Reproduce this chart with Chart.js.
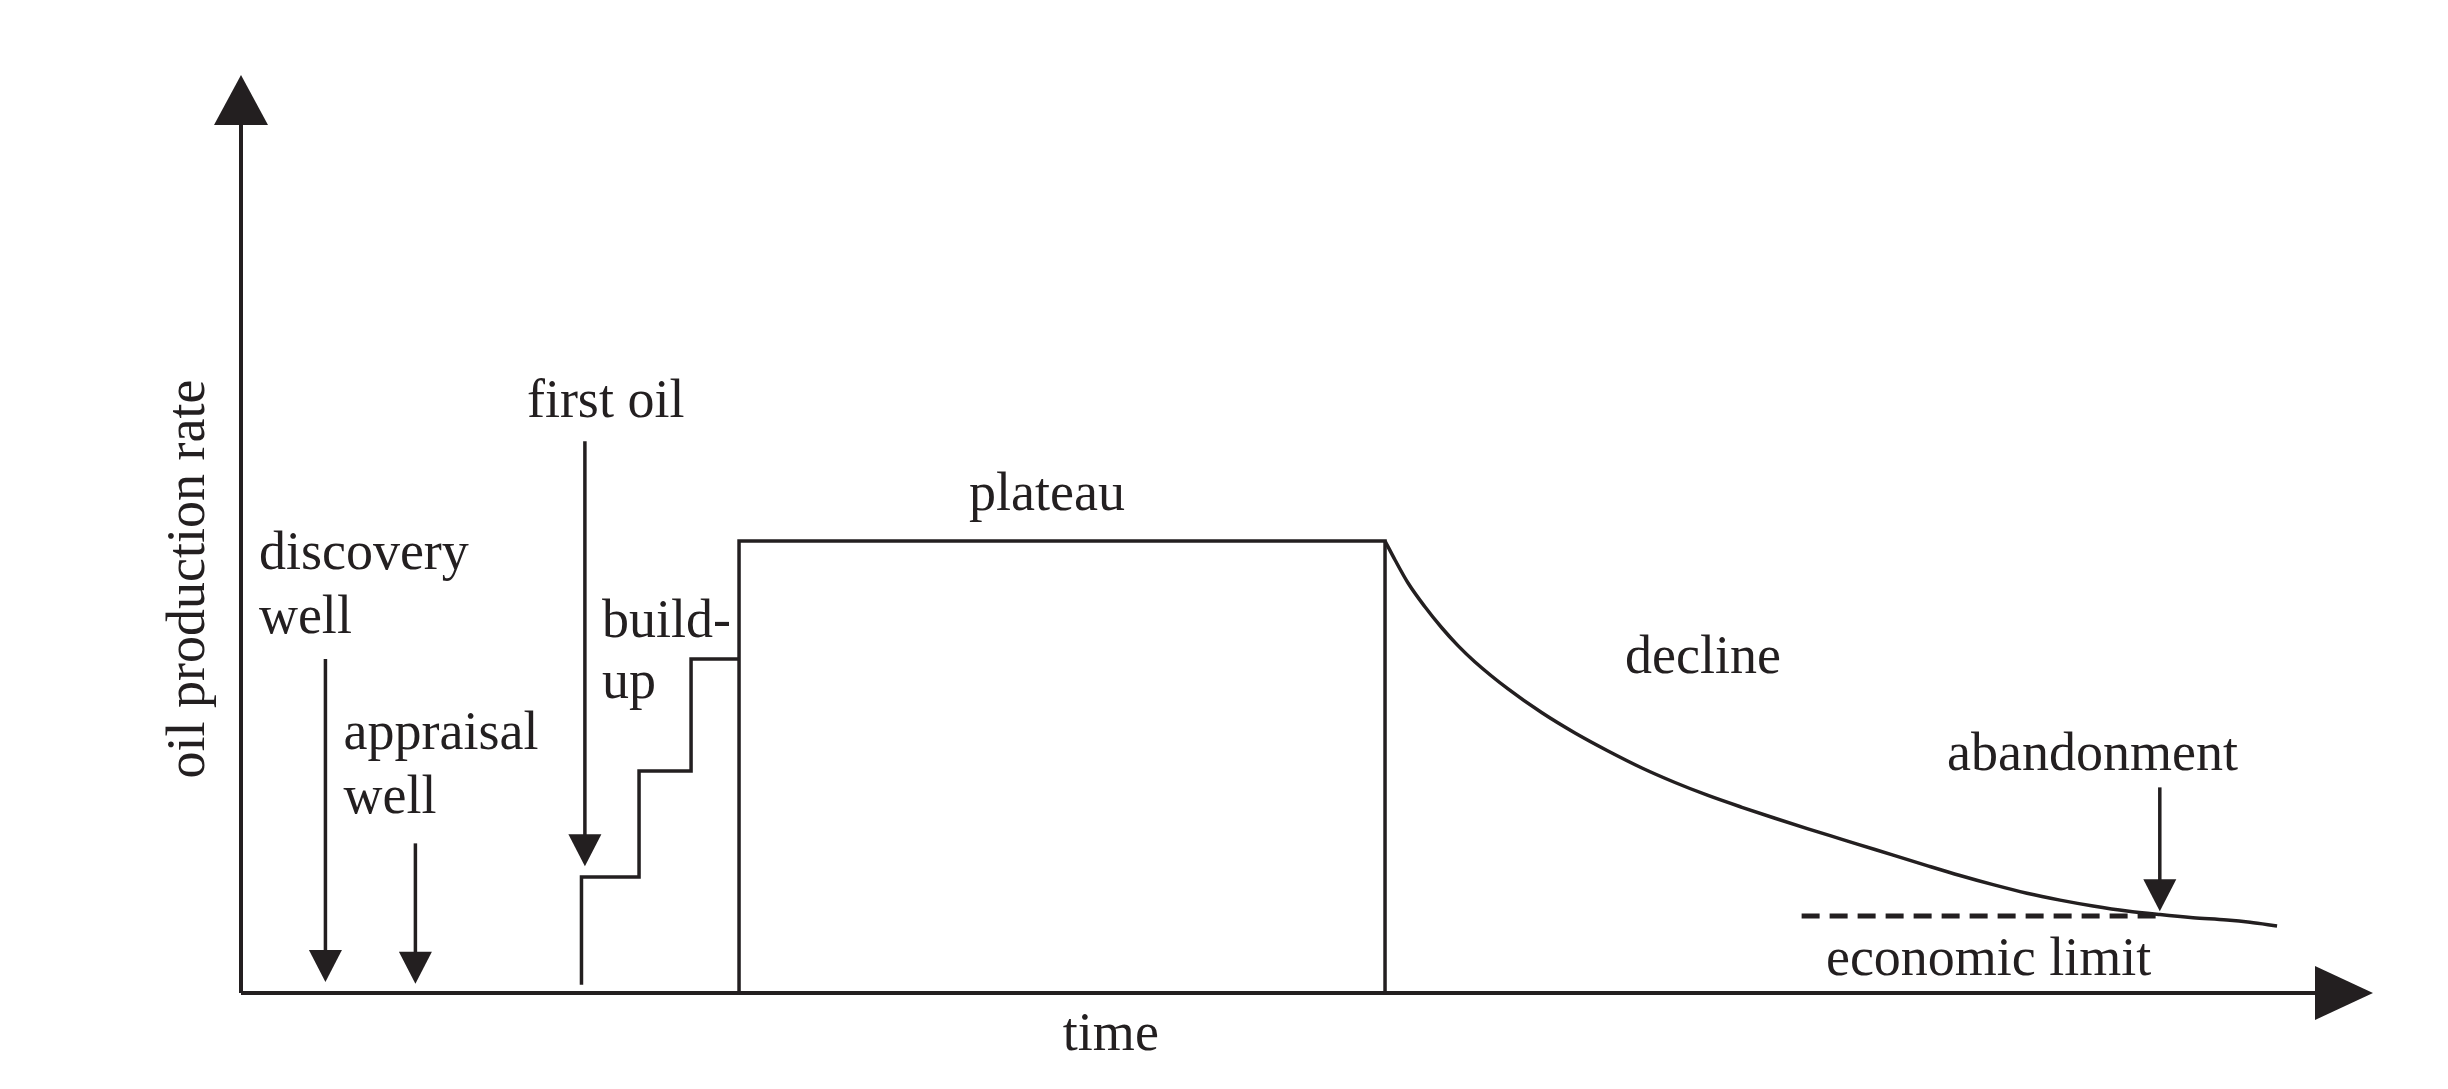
<!DOCTYPE html>
<html><head><meta charset="utf-8">
<script src="https://cdn.jsdelivr.net/npm/chart.js@4.4.0/dist/chart.umd.min.js"></script>
<style>html,body{margin:0;padding:0;background:#fff;}#wrap{width:2448px;height:1089px;}</style>
</head><body><div id="wrap"><canvas id="c" width="2448" height="1089"></canvas></div>
<script>
// ---- data (time and rate in arbitrary units, 0..100) ----
const stepTime = [15.97, 15.97, 18.67, 18.67, 21.11, 21.11, 23.36];
const stepRate = [0.9, 12.64, 12.64, 24.18, 24.18, 36.38, 36.38];
const plateauTime = [23.36, 23.36, 53.66, 53.66];
const plateauRate = [0, 49.24, 49.24, 0];
const declineTime = [53.66, 54.13, 54.74, 55.53, 56.33, 57.08, 57.88, 59.43, 61.02, 62.57, 64.12, 65.71, 67.26, 68.81, 70.40, 71.95, 73.50, 75.09, 76.64, 79.08, 80.63, 82.18, 83.77, 85.32, 86.87, 88.46, 90.01, 91.56, 93.15, 94.23, 95.50];
const declineRate = [49.24, 47.17, 44.66, 42.07, 39.76, 37.84, 36.06, 33.12, 30.52, 28.32, 26.36, 24.51, 22.93, 21.52, 20.23, 19.04, 17.88, 16.74, 15.63, 13.88, 12.80, 11.80, 10.87, 10.12, 9.48, 8.93, 8.54, 8.21, 7.95, 7.70, 7.30];
const econLimitTime = [73.2, 90.2];
const econLimitRate = [8.39, 8.39];
// event arrows
const arrowTime = [3.96, 8.18, 16.13, 90.0];
const arrowFromRate = [36.38, 16.3, 60.1, 22.4];
const arrowToRate = [1.2, 1.0, 13.8, 8.9];
// annotation texts
const labelText = ['first oil', 'discovery', 'well', 'appraisal', 'well', 'build-', 'up', 'plateau', 'decline', 'abandonment', 'economic limit'];
const labelTime = [13.41, 0.84, 0.84, 4.81, 4.81, 16.93, 16.93, 34.15, 64.92, 80.02, 74.34];
const labelRate = [62.75, 46.19, 39.22, 26.58, 19.61, 38.78, 32.14, 52.61, 34.86, 24.29, 1.96];
const xTitle = 'time';
const yTitle = 'oil production rate';

const INK = '#231f20';
const FONT = '54px "Liberation Serif", "Times New Roman", serif';
const pts = (xs, ys) => xs.map((x, i) => ({x: x, y: ys[i]}));

const lineDs = (data, extra) => Object.assign({
  data: data, showLine: true, borderColor: INK, borderWidth: 3.5,
  pointRadius: 0, fill: false, tension: 0
}, extra || {});

const drawPlugin = {
  id: 'diagram',
  beforeDatasetsDraw(chart) {
    const ctx = chart.ctx, a = chart.chartArea;
    const xs = chart.scales.x, ys = chart.scales.y;
    const x0 = xs.getPixelForValue(0), y0 = ys.getPixelForValue(0);
    ctx.save();
    ctx.strokeStyle = INK; ctx.fillStyle = INK; ctx.lineWidth = 4;
    // y axis
    ctx.beginPath(); ctx.moveTo(x0, y0); ctx.lineTo(x0, a.top + 45); ctx.stroke();
    ctx.beginPath(); ctx.moveTo(x0, a.top); ctx.lineTo(x0 - 27, a.top + 50); ctx.lineTo(x0 + 27, a.top + 50); ctx.closePath(); ctx.fill();
    // x axis
    ctx.beginPath(); ctx.moveTo(x0, y0); ctx.lineTo(a.right - 50, y0); ctx.stroke();
    ctx.beginPath(); ctx.moveTo(a.right, y0); ctx.lineTo(a.right - 58, y0 - 27); ctx.lineTo(a.right - 58, y0 + 27); ctx.closePath(); ctx.fill();
    ctx.restore();
  },
  afterDatasetsDraw(chart) {
    const ctx = chart.ctx;
    const xs = chart.scales.x, ys = chart.scales.y;
    ctx.save();
    ctx.strokeStyle = INK; ctx.fillStyle = INK; ctx.lineWidth = 3.5;
    // arrows
    arrowTime.forEach((t, i) => {
      const x = xs.getPixelForValue(t);
      const yA = ys.getPixelForValue(arrowFromRate[i]);
      const yB = ys.getPixelForValue(arrowToRate[i]);
      ctx.beginPath(); ctx.moveTo(x, yA); ctx.lineTo(x, yB - 20); ctx.stroke();
      ctx.beginPath(); ctx.moveTo(x, yB); ctx.lineTo(x - 16.5, yB - 32); ctx.lineTo(x + 16.5, yB - 32); ctx.closePath(); ctx.fill();
    });
    // labels
    ctx.font = FONT; ctx.textAlign = 'left'; ctx.textBaseline = 'alphabetic';
    labelText.forEach((s, i) => {
      ctx.fillText(s, xs.getPixelForValue(labelTime[i]), ys.getPixelForValue(labelRate[i]));
    });
    // axis titles
    ctx.textAlign = 'center';
    ctx.fillText(xTitle, xs.getPixelForValue(40.8), ys.getPixelForValue(0) + 57);
    ctx.save();
    ctx.translate(xs.getPixelForValue(0) - 37, ys.getPixelForValue(45.1));
    ctx.rotate(-Math.PI / 2);
    ctx.fillText(yTitle, 0, 0);
    ctx.restore();
    ctx.restore();
  }
};

new Chart(document.getElementById('c'), {
  type: 'scatter',
  data: {
    datasets: [
      lineDs(pts(stepTime, stepRate)),
      lineDs(pts(plateauTime, plateauRate)),
      lineDs(pts(declineTime, declineRate), {cubicInterpolationMode: 'monotone'}),
      lineDs(pts(econLimitTime, econLimitRate), {borderWidth: 5, borderDash: [18, 10]})
    ]
  },
  options: {
    responsive: false, devicePixelRatio: 1, animation: false,
    layout: {padding: {left: 241, right: 75, top: 75, bottom: 96}},
    scales: {
      x: {type: 'linear', min: 0, max: 100, display: false},
      y: {type: 'linear', min: 0, max: 100, display: false}
    },
    plugins: {legend: {display: false}, tooltip: {enabled: false}}
  },
  plugins: [drawPlugin]
});
</script></body></html>
